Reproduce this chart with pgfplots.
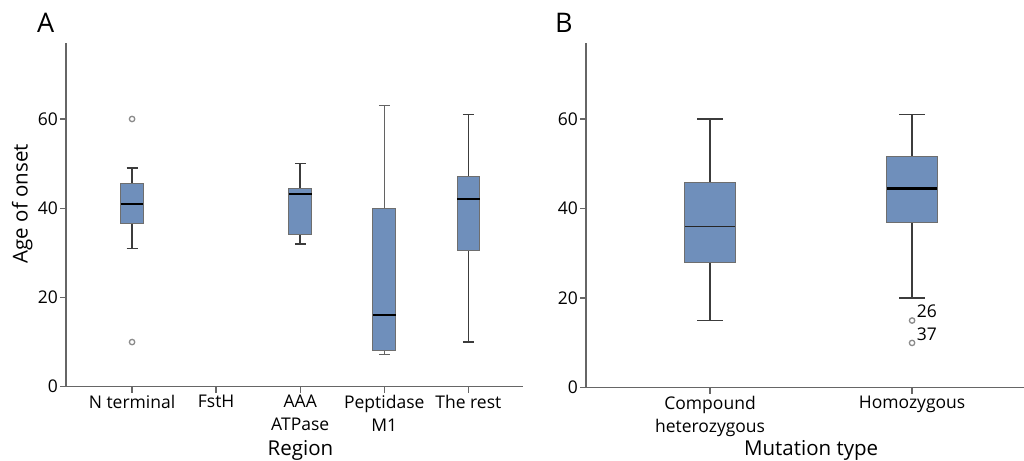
\documentclass[border=0pt]{standalone}
\usepackage{pgfplots}
\pgfplotsset{compat=1.18}
\usepgfplotslibrary{statistics}
\usepackage{fontspec}
\setmainfont{Open Sans}

\definecolor{boxblue}{HTML}{6F8FBB}
\definecolor{boxedge}{HTML}{6E6E6E}
\definecolor{whisk}{HTML}{3C3C3C}
\definecolor{axisgray}{HTML}{666666}
\definecolor{outl}{HTML}{8A8A8A}

\newcommand{\tickfont}{\fontsize{17.5bp}{23bp}\selectfont}
\newcommand{\labfont}{\fontsize{20.5bp}{24bp}\selectfont}

\pgfplotsset{
  panel/.style={
    scale only axis,
    axis x line=bottom, axis y line=left,
    axis line style={-, draw=axisgray, line width=1.3bp},
    tick align=outside, major tick length=6bp,
    tick style={draw=axisgray, line width=1.3bp},
    ymin=0,
    ytick={0,20,40,60},
    /pgf/number format/assume math mode=true,
    ticklabel style={font=\tickfont},
    xticklabel style={align=center, inner sep=1bp, yshift=-1bp},
    yticklabel style={inner sep=2bp},
    label style={font=\labfont},
    boxplot/draw direction=y,
    boxplot/every box/.style={draw=boxedge, fill=boxblue, line width=1bp},
    boxplot/every whisker/.style={draw=whisk, line width=1.6bp},
    boxplot/every median/.style={draw=black, line width=2bp},
  },
  bx/.style={mark=o, mark size=2.7bp, mark options={draw=outl, line width=1.3bp}},
}

\begin{document}
\begin{tikzpicture}
\useasboundingbox (0,0) rectangle (1024bp,461bp);

\node[anchor=base west, inner sep=0, font=\fontsize{27bp}{30bp}\selectfont] at (37bp,428bp) {A};
\node[anchor=base west, inner sep=0, font=\fontsize{27bp}{30bp}\selectfont] at (555bp,428bp) {B};

% panel A: age of onset by region
\begin{axis}[panel,
  at={(66bp,74.3bp)}, anchor=south west,
  width=457bp, height=344bp,
  xmin=0.214, xmax=5.65, ymax=77.1,
  xtick={1,2,3,4,5},
  xticklabels={N terminal, FstH, {AAA\\ATPase}, {Peptidase\\M1}, The rest},
  xlabel={Region},
  xlabel style={at={(axis description cs:0.513,-0.2)}, anchor=base},
  ylabel={Age of onset},
  ylabel style={at={(axis description cs:-0.096,0.532)}, anchor=center},
  boxplot/box extend=0.27, boxplot/whisker extend=0.13,
]
\addplot[bx, boxplot prepared={draw position=1, median=41, upper quartile=45.6,
  lower quartile=36.5, upper whisker=49, lower whisker=31}]
  table[row sep=\\, y index=0] {60\\ 10\\};
\addplot[bx, boxplot prepared={draw position=3, median=43.1, upper quartile=44.5,
  lower quartile=34, upper whisker=50, lower whisker=32}]
  coordinates {};
\addplot[bx, boxplot prepared={draw position=4, median=16, upper quartile=40,
  lower quartile=8.2, upper whisker=63, lower whisker=7.2,
  every whisker/.style={draw=whisk!80!white, line width=1.3bp}}]
  coordinates {};
\addplot[bx, boxplot prepared={draw position=5, median=42, upper quartile=47,
  lower quartile=30.6, upper whisker=61, lower whisker=10}]
  coordinates {};
\end{axis}

% panel B: age of onset by mutation type
\begin{axis}[panel,
  at={(586bp,73.3bp)}, anchor=south west,
  width=438bp, height=344.4bp,
  xmin=0.386, xmax=2.554, ymax=76.9,
  xtick={1,2},
  xticklabels={{Compound\\heterozygous}, Homozygous},
  xlabel={Mutation type},
  xlabel style={at={(axis description cs:0.514,-0.196)}, anchor=base},
  boxplot/box extend=0.25, boxplot/whisker extend=0.125,
]
\addplot[bx, boxplot prepared={draw position=1, median=36, upper quartile=45.9,
  lower quartile=28, upper whisker=60, lower whisker=15,
  every median/.style={draw=black!85, line width=1.6bp}}]
  coordinates {};
\addplot[bx, boxplot prepared={draw position=2, median=44.5, upper quartile=51.6,
  lower quartile=36.9, upper whisker=61, lower whisker=20,
  every median/.style={draw=black, line width=2.5bp}}]
  table[row sep=\\, y index=0] {15\\ 10\\};
\node[anchor=base west, inner sep=0, font=\tickfont] at (axis cs:2.023,15.6) {26};
\node[anchor=base west, inner sep=0, font=\tickfont] at (axis cs:2.023,10.6) {37};
\end{axis}
\end{tikzpicture}
\end{document}
